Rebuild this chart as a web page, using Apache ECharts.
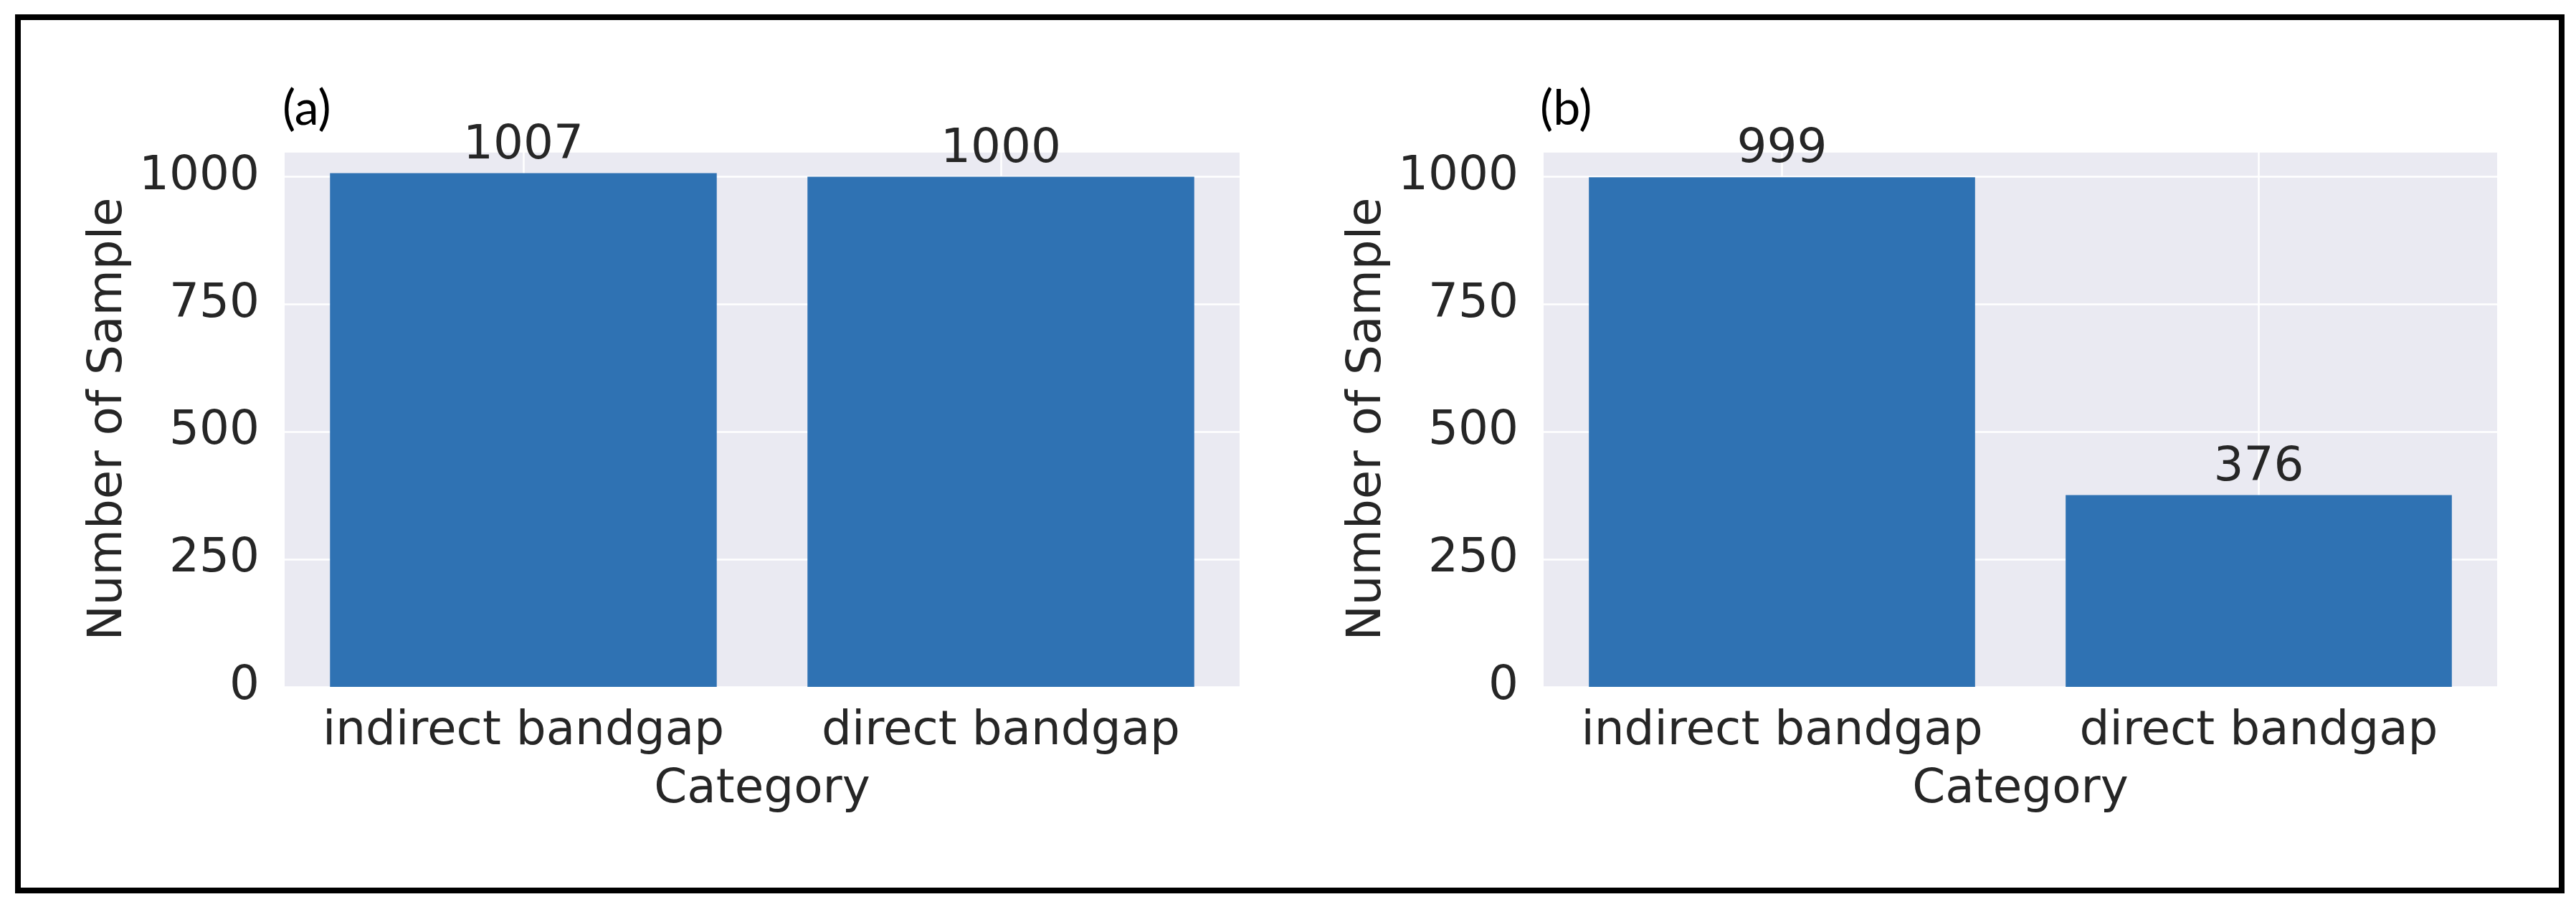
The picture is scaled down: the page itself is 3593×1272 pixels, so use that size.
<!DOCTYPE html>
<html>
<head>
<meta charset="utf-8">
<script src="https://cdn.jsdelivr.net/npm/echarts@6.0.0/dist/echarts.min.js"></script>
<style>
  html, body { margin: 0; padding: 0; background: #ffffff; }
  #chart { width: 3593px; height: 1272px; }
</style>
</head>
<body>
<div id="chart"></div>
<script>
// ---- data ----
const categories = ['indirect bandgap', 'direct bandgap'];
const valuesA = [1007, 1000];
const valuesB = [999, 376];
const yTicks = [0, 250, 500, 750, 1000];
const panelLabels = ['(a)', '(b)'];
const xAxisName = 'Category';
const yAxisName = 'Number of Sample';

// ---- styling ----
const FONT = 'DejaVu Sans';
const TXT = '#262626';
const BAR = '#2f72b3';
const BG = '#eaeaf2';
const FS = 66;

const grids = [
  { left: 397, right: 3593 - 1729, top: 211, bottom: 1272 - 958 },
  { left: 2153, right: 3593 - 3483, top: 211, bottom: 1272 - 958 }
];

function xAxisFor(i) {
  return {
    type: 'category',
    gridIndex: i,
    data: categories,
    axisLine: { show: false },
    axisTick: { show: false, alignWithLabel: true, interval: 0 },
    splitLine: { show: true, alignWithLabel: true, interval: 0, lineStyle: { color: '#ffffff', width: 2.5 } },
    axisLabel: { color: TXT, fontFamily: FONT, fontSize: FS, margin: 30, interval: 0, hideOverlap: false },
    name: xAxisName,
    nameLocation: 'middle',
    nameGap: 111,
    nameTextStyle: { color: TXT, fontFamily: FONT, fontSize: FS }
  };
}
function yAxisFor(i) {
  return {
    type: 'value',
    gridIndex: i,
    min: 0,
    max: 1050,
    interval: 250,
    axisLine: { show: false },
    axisTick: { show: false },
    splitLine: { show: true, lineStyle: { color: '#ffffff', width: 2.5 } },
    axisLabel: {
      color: TXT, fontFamily: FONT, fontSize: FS, margin: 35,
      showMaxLabel: false,
      formatter: function (v) { return yTicks.indexOf(v) >= 0 ? String(v) : ''; }
    },
    name: yAxisName,
    nameLocation: 'middle',
    nameGap: 212,
    nameTextStyle: { color: TXT, fontFamily: FONT, fontSize: FS }
  };
}
function seriesFor(i, values) {
  return {
    type: 'bar',
    xAxisIndex: i,
    yAxisIndex: i,
    data: values,
    barWidth: '81%',
    itemStyle: { color: BAR },
    label: {
      show: true,
      position: 'top',
      distance: 5,
      color: TXT,
      fontFamily: FONT,
      fontSize: FS
    }
  };
}

const chart = echarts.init(document.getElementById('chart'), null, { renderer: 'canvas' });
chart.setOption({
  animation: false,
  backgroundColor: '#ffffff',
  title: [
    { text: panelLabels[0], left: 394, top: 118, padding: 0,
      textStyle: { fontFamily: 'Lato', fontWeight: 'normal', fontSize: 68, color: '#000000' } },
    { text: panelLabels[1], left: 2148, top: 118, padding: 0,
      textStyle: { fontFamily: 'Lato', fontWeight: 'normal', fontSize: 68, color: '#000000' } }
  ],
  grid: grids.map(g => Object.assign({ show: true, backgroundColor: BG, borderWidth: 0, containLabel: false }, g)),
  xAxis: [xAxisFor(0), xAxisFor(1)],
  yAxis: [yAxisFor(0), yAxisFor(1)],
  series: [seriesFor(0, valuesA), seriesFor(1, valuesB)],
  graphic: [
    { type: 'rect', silent: true, z: 100,
      shape: { x: 25, y: 24, width: 3548, height: 1218 },
      style: { fill: 'none', stroke: '#000000', lineWidth: 8 } }
  ]
});
</script>
</body>
</html>
